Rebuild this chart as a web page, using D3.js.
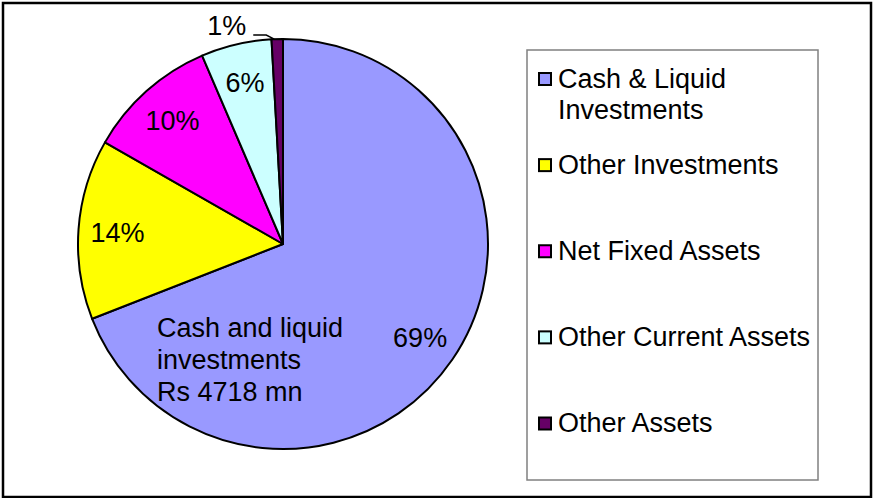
<!DOCTYPE html>
<html>
<head>
<meta charset="utf-8">
<script src="https://cdn.jsdelivr.net/npm/d3@7"></script>
<style>
  html, body { margin: 0; padding: 0; background: #fff; }
  svg { display: block; }
  text { font-family: "Liberation Sans", Arial, Helvetica, sans-serif; fill: #000; }
</style>
</head>
<body>
<svg id="chart" width="873" height="498"></svg>
<script>
// Asset composition (Rs mn)
const categories = ["Cash & Liquid Investments", "Other Investments", "Net Fixed Assets", "Other Current Assets", "Other Assets"];
const legendLines = [["Cash & Liquid", "Investments"], ["Other Investments"], ["Net Fixed Assets"], ["Other Current Assets"], ["Other Assets"]];
const values = [4718, 970, 703, 380, 61];
const colors = ["#9999FF", "#FFFF00", "#FF00FF", "#CCFFFF", "#660066"];
const noteLines = ["Cash and liquid", "investments", "Rs 4718 mn"];

const cx = 283, cy = 244, R = 205;
const fontSize = 27;

const svg = d3.select("#chart");

// outer frame
svg.append("rect")
  .attr("x", 3).attr("y", 3).attr("width", 868).attr("height", 494)
  .attr("fill", "#fff").attr("stroke", "#000").attr("stroke-width", 2.5);

const total = d3.sum(values);
const data = categories.map((c, i) => ({ name: c, value: values[i], color: colors[i] }));

const pie = d3.pie().value(d => d.value).sort(null);
const arcs = pie(data);

const arc = d3.arc().innerRadius(0).outerRadius(R);
const labelArc = d3.arc().innerRadius(166).outerRadius(166);
const edgeArc = d3.arc().innerRadius(R).outerRadius(R);

const g = svg.append("g").attr("transform", `translate(${cx},${cy})`);

g.selectAll("path.slice")
  .data(arcs)
  .join("path")
  .attr("class", "slice")
  .attr("d", arc)
  .attr("fill", d => d.data.color)
  .attr("stroke", "#000")
  .attr("stroke-width", 2)
  .attr("stroke-linejoin", "round");

const pct = d => Math.round(d.data.value / total * 100) + "%";

// percentage labels inside the larger slices
arcs.forEach(d => {
  const share = d.data.value / total;
  if (share >= 0.03) {
    const [x, y] = labelArc.centroid(d);
    g.append("text")
      .attr("x", x).attr("y", y)
      .attr("dy", "0.36em")
      .attr("text-anchor", "middle")
      .attr("font-size", fontSize)
      .text(pct(d));
  } else {
    // small slice: label outside with a leader line
    const [ex, ey] = edgeArc.centroid(d);
    const lx = ex - 24, ly = ey - 4;
    g.append("path")
      .attr("d", `M${ex - 3},${ey} L${lx + 13},${ly} L${lx},${ly}`)
      .attr("fill", "none").attr("stroke", "#000").attr("stroke-width", 1.5);
    g.append("text")
      .attr("x", lx - 7).attr("y", ly)
      .attr("text-anchor", "end")
      .attr("font-size", fontSize)
      .text(pct(d));
  }
});

// annotation in the cash slice
const note = g.append("text")
  .attr("x", -126).attr("y", 93)
  .attr("font-size", fontSize);
noteLines.forEach((t, i) => {
  note.append("tspan").attr("x", -126).attr("dy", i === 0 ? 0 : 31.8).text(t);
});

// legend
const lg = svg.append("g");
lg.append("rect")
  .attr("x", 527).attr("y", 50).attr("width", 291).attr("height", 430)
  .attr("fill", "#fff").attr("stroke", "#808080").attr("stroke-width", 1.5);

const legendY = d3.scalePoint().domain(categories).range([79, 423.5]);

categories.forEach((c, i) => {
  const y = legendY(c);
  lg.append("rect")
    .attr("x", 539).attr("y", y - 6).attr("width", 12).attr("height", 12)
    .attr("fill", colors[i]).attr("stroke", "#000").attr("stroke-width", 2);
  const t = lg.append("text")
    .attr("x", 558).attr("y", y + 8.5)
    .attr("font-size", fontSize);
  legendLines[i].forEach((line, j) => {
    t.append("tspan").attr("x", 558).attr("dy", j === 0 ? 0 : 31).text(line);
  });
});
</script>
</body>
</html>
